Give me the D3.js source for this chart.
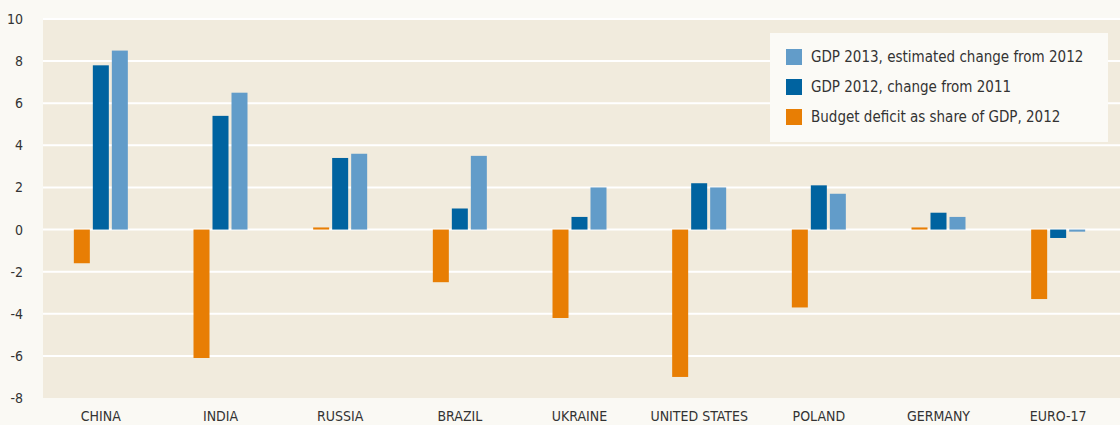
<!DOCTYPE html>
<html><head><meta charset="utf-8">
<script src="https://cdn.jsdelivr.net/npm/d3@7"></script>
<style>
html,body{margin:0;padding:0;background:#faf9f4;}
svg{display:block;font-family:"DejaVu Sans Condensed",sans-serif;}
</style></head>
<body><svg id="c" width="1120" height="425"></svg>
<script>
const categories = ["CHINA","INDIA","RUSSIA","BRAZIL","UKRAINE","UNITED STATES","POLAND","GERMANY","EURO-17"];
const deficit2012 = [-1.6,-6.1,0.1,-2.5,-4.2,-7.0,-3.7,0.1,-3.3];
const gdp2012 = [7.8,5.4,3.4,1.0,0.6,2.2,2.1,0.8,-0.4];
const gdp2013 = [8.5,6.5,3.6,3.5,2.0,2.0,1.7,0.6,-0.1];
const yTicks = [-8,-6,-4,-2,0,2,4,6,8,10];
const seriesNames = ["GDP 2013, estimated change from 2012","GDP 2012, change from 2011","Budget deficit as share of GDP, 2012"];

const colors = {def:"#e87e04", g12:"#0063a0", g13:"#629cc9"};
const FONT = '"DejaVu Sans Condensed",sans-serif';
const svg = d3.select("#c");
const plot = {left:43, right:1120, top:19, bottom:398};

const y = d3.scaleLinear().domain([-8,10]).range([plot.bottom, plot.top]);
const x = d3.scaleBand().domain(categories).range([41,1118]).padding(0);
const sub = d3.scaleBand().domain(["def","g12","g13"]).range([-27,27]).paddingInner(0.158);

svg.append("rect").attr("x",plot.left).attr("y",plot.top)
  .attr("width",plot.right-plot.left).attr("height",plot.bottom-plot.top).attr("fill","#f1ebdd");

svg.append("g").selectAll("line").data(yTicks.filter(t=>t>-8)).join("line")
  .attr("x1",plot.left).attr("x2",plot.right)
  .attr("y1",d=>y(d)).attr("y2",d=>y(d))
  .attr("stroke","#ffffff").attr("stroke-width",2);

const yAxis = d3.axisLeft(y).tickValues(yTicks).tickSize(0).tickPadding(0).tickFormat(d=>String(d));
const ya = svg.append("g").attr("transform","translate(23,0)").call(yAxis);
ya.select(".domain").remove();
ya.selectAll("text").attr("fill","#333").style("font-size","14px").style("font-family",FONT);

const xAxis = d3.axisBottom(x).tickSize(0).tickPadding(0);
const xa = svg.append("g").attr("transform","translate(0,411)").call(xAxis);
xa.select(".domain").remove();
xa.selectAll("text").attr("fill","#333").style("font-size","14px").style("font-family",FONT);

const series = [["def",deficit2012],["g12",gdp2012],["g13",gdp2013]];
series.forEach(([key,vals])=>{
  svg.append("g").selectAll("rect").data(vals).join("rect")
    .attr("x",(d,i)=>x(categories[i])+x.bandwidth()/2+sub(key))
    .attr("width",sub.bandwidth())
    .attr("y",d=>Math.min(y(d),y(0)))
    .attr("height",d=>Math.abs(y(d)-y(0)))
    .attr("fill",colors[key]);
});

// legend
const lg = svg.append("g");
lg.append("rect").attr("x",770).attr("y",33).attr("width",338).attr("height",109).attr("fill","#fbfaf6");
const legKeys = ["g13","g12","def"];
legKeys.forEach((k,i)=>{
  const cy = 57 + i*30;
  lg.append("rect").attr("x",786).attr("y",cy-8).attr("width",16).attr("height",16).attr("fill",colors[k]);
  lg.append("text").attr("x",811).attr("y",cy).attr("dy","0.36em").attr("fill","#333")
    .style("font-size","15px").style("font-family",FONT).text(seriesNames[i]);
});
</script></body></html>
